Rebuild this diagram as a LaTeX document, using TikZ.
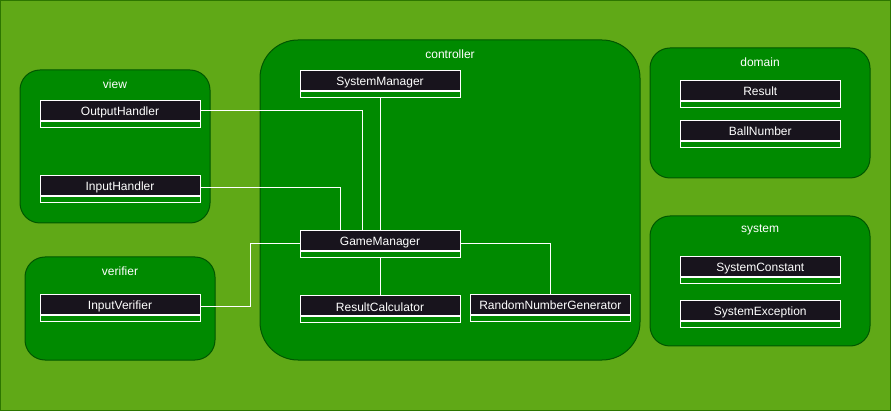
\documentclass[tikz,border=0pt]{standalone}
\usepackage{fontspec}
\setmainfont{Liberation Sans}
\definecolor{bg}{HTML}{60A917}
\definecolor{bgline}{HTML}{2D7600}
\definecolor{pkg}{HTML}{008A00}
\definecolor{pkgline}{HTML}{005700}
\definecolor{hdr}{HTML}{18141D}
\begin{document}
\begin{tikzpicture}[x=1pt,y=-1pt,
  font=\fontsize{12}{14}\selectfont,
  pkgbox/.style={fill=pkg,draw=pkgline,line width=1pt},
  pkgtitle/.style={text=white,inner sep=0pt},
  cls/.style={draw=white,fill=hdr,text=white,minimum width=160pt,minimum height=20.5pt,inner sep=0pt,line width=1pt,text height=13.5pt,text depth=2.5pt},
  comp/.style={draw=white,fill=pkg,minimum width=160pt,minimum height=6pt,inner sep=0pt,line width=1pt,anchor=north},
  conn/.style={draw=white,line width=1pt}]
\useasboundingbox (0,0) rectangle (891,411);
\draw[fill=bg,draw=bgline,line width=1pt] (0.5,0.5) rectangle (890.5,410.5);

% packages
\draw[pkgbox,rounded corners=20pt] (20,70) rectangle (210,223);
\node[pkgtitle] (tview) at (115,84) {view};
\draw[pkgbox,rounded corners=20pt] (25,257) rectangle (215,360);
\node[pkgtitle] (tverifier) at (120,271) {verifier};
\draw[pkgbox,rounded corners=38pt] (260,40) rectangle (640,360);
\node[pkgtitle] (tcontroller) at (450,54) {controller};
\draw[pkgbox,rounded corners=20pt] (650,48) rectangle (870,178);
\node[pkgtitle] (tdomain) at (760,62) {domain};
\draw[pkgbox,rounded corners=20pt] (650,216) rectangle (870,346);
\node[pkgtitle] (tsystem) at (760,230) {system};

% classes
\node[cls] (oh) at (120,110.3) {OutputHandler};
\node[comp] (ohc) at (oh.south) {};
\node[cls] (ih) at (120,185.5) {InputHandler};
\node[comp] (ihc) at (ih.south) {};
\node[cls] (iv) at (120,304.3) {InputVerifier};
\node[comp] (ivc) at (iv.south) {};
\node[cls] (sm) at (380,80.3) {SystemManager};
\node[comp] (smc) at (sm.south) {};
\node[cls] (gm) at (380,240.3) {GameManager};
\node[comp] (gmc) at (gm.south) {};
\node[cls] (rc) at (380,305.6) {ResultCalculator};
\node[comp] (rcc) at (rc.south) {};
\node[cls] (rng) at (550.3,304.3) {RandomNumberGenerator};
\node[comp] (rngc) at (rng.south) {};
\node[cls] (res) at (760.3,90.3) {Result};
\node[comp] (resc) at (res.south) {};
\node[cls] (bn) at (760.3,130.3) {BallNumber};
\node[comp] (bnc) at (bn.south) {};
\node[cls] (sc) at (760.3,266.3) {SystemConstant};
\node[comp] (scc) at (sc.south) {};
\node[cls] (se) at (760.3,310.3) {SystemException};
\node[comp] (sec) at (se.south) {};

% connectors
\draw[conn] (oh.east) -| ([xshift=-18pt]gm.north);
\draw[conn] ([yshift=-2pt]ih.east) -| ([xshift=-40pt]gm.north);
\draw[conn] (smc.south) -- (gm.north);
\draw[conn] (gmc.south) -- (rc.north);
\draw[conn] ([yshift=-3pt]gm.west) -- ++(-49.3,0) |- ([yshift=-2.4pt]iv.east);
\draw[conn] ([yshift=-3pt]gm.east) -| (rng.north);
\end{tikzpicture}
\end{document}
